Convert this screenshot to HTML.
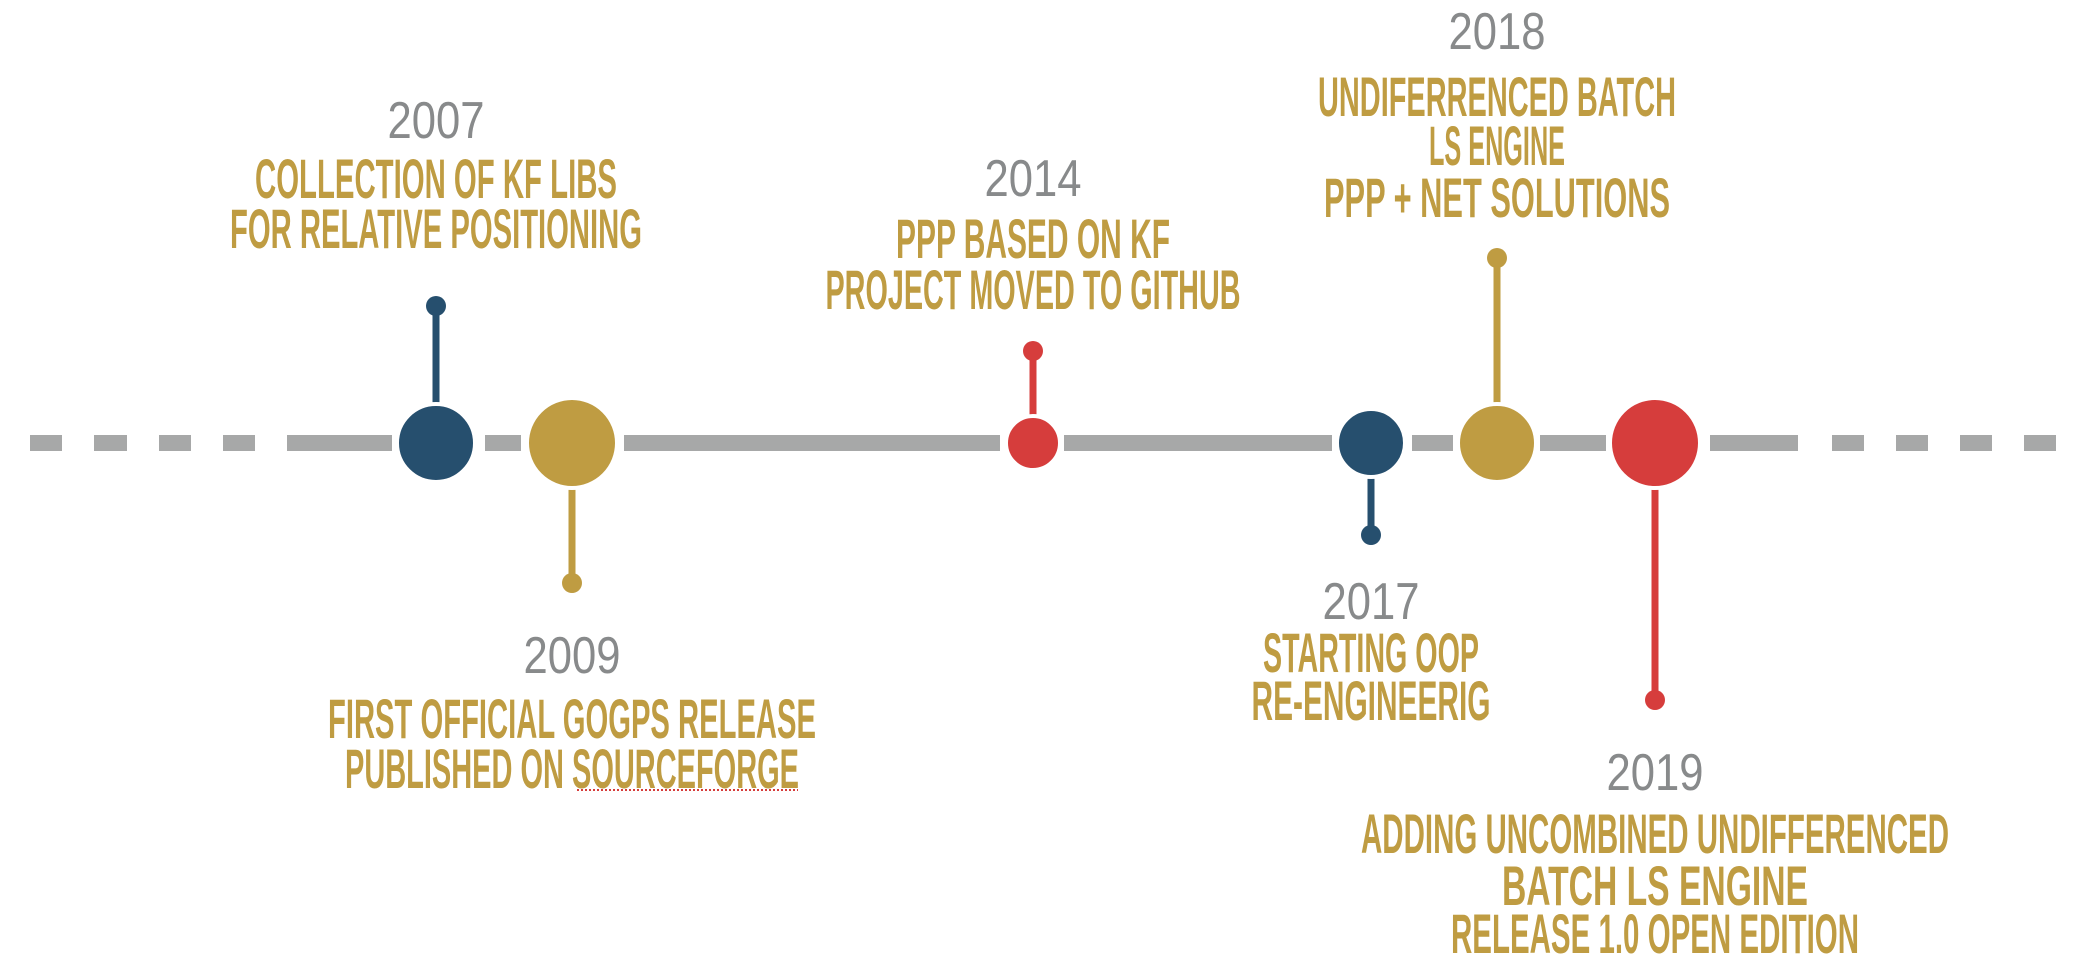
<!DOCTYPE html>
<html><head><meta charset="utf-8">
<style>
html,body{margin:0;padding:0;background:#fff;width:2086px;height:970px;overflow:hidden}
svg{display:block}
.yr{font-family:"Liberation Sans Narrow","Liberation Sans",sans-serif;font-size:52px;fill:#888a8b}
.lb{font-family:"Liberation Sans Narrow","Liberation Sans",sans-serif;font-size:56px;font-weight:bold;fill:#bf9c42}
</style></head>
<body>
<svg id="chart" width="2086" height="970" viewBox="0 0 2086 970">
<g id="axis"></g>
<g id="events"></g>
<line x1="577" y1="790" x2="798" y2="790" stroke="#d63d3c" stroke-width="2" stroke-dasharray="2,2"/>
</svg>
<script>
var years=["2007","2009","2014","2017","2018","2019"];
var colors=["#264f6e","#bf9c42","#d63d3c","#264f6e","#bf9c42","#d63d3c"];
var radii=[39,45,27,34,39,45];
var stemEnds=[306,583,351,535,258,700];
var labels=[
 ["COLLECTION OF KF LIBS","FOR RELATIVE POSITIONING"],
 ["FIRST OFFICIAL GOGPS RELEASE","PUBLISHED ON SOURCEFORGE"],
 ["PPP BASED ON KF","PROJECT MOVED TO GITHUB"],
 ["STARTING OOP","RE-ENGINEERIG"],
 ["UNDIFERRENCED BATCH","LS ENGINE","PPP + NET SOLUTIONS"],
 ["ADDING UNCOMBINED UNDIFFERENCED","BATCH LS ENGINE","RELEASE 1.0 OPEN EDITION"]
];
var labelWidths=[[362,412],[488,454],[274,415],[216,239],[358,136,346],[588,306,408]];
var cx=[436,572,1033,1371,1497,1655];
var yearBase=[138,673,196,619,49,790];
var lineBase=[[198,248],[738,788],[258,309],[672,720],[116,165,217],[853,905,953]];
var NS="http://www.w3.org/2000/svg";
var LY=443;
function mk(t,a,p){var e=document.createElementNS(NS,t);for(var k in a)e.setAttribute(k,a[k]);p.appendChild(e);return e;}
var ax=document.getElementById('axis');
var segs=[[30,62],[94,127],[159,191],[223,255],[287,392],[485,521],[624,1000],[1064,1332],[1412,1453],[1540,1606],[1710,1798],[1832,1864],[1896,1928],[1960,1992],[2024,2056]];
segs.forEach(function(s){
 var r=mk('rect',{x:s[0],y:LY-8,width:s[1]-s[0],height:16,fill:'#a7a8a8'},ax);
 
 
});
var ev=document.getElementById('events');
years.forEach(function(y,i){
 var g=mk('g',{},ev);
 
 
 var st=mk('line',{x1:cx[i],y1:LY,x2:cx[i],y2:stemEnds[i],stroke:colors[i],'stroke-width':7},g);
 
 
 var d=mk('circle',{cx:cx[i],cy:stemEnds[i],r:10,fill:colors[i]},g);
 
 
 var c=mk('circle',{cx:cx[i],cy:LY,r:radii[i],fill:colors[i],stroke:'#fff','stroke-width':4},g);
 
 
 var t=mk('text',{x:cx[i],y:yearBase[i],'text-anchor':'middle','class':'yr',textLength:97,lengthAdjust:'spacingAndGlyphs'},g);
 t.textContent=y;
 
 
 labels[i].forEach(function(l,j){
  var lt=mk('text',{x:cx[i],y:lineBase[i][j],'text-anchor':'middle','class':'lb',textLength:labelWidths[i][j],lengthAdjust:'spacingAndGlyphs'},g);
  lt.textContent=l;
  
  
 });
});
</script>
</body></html>
